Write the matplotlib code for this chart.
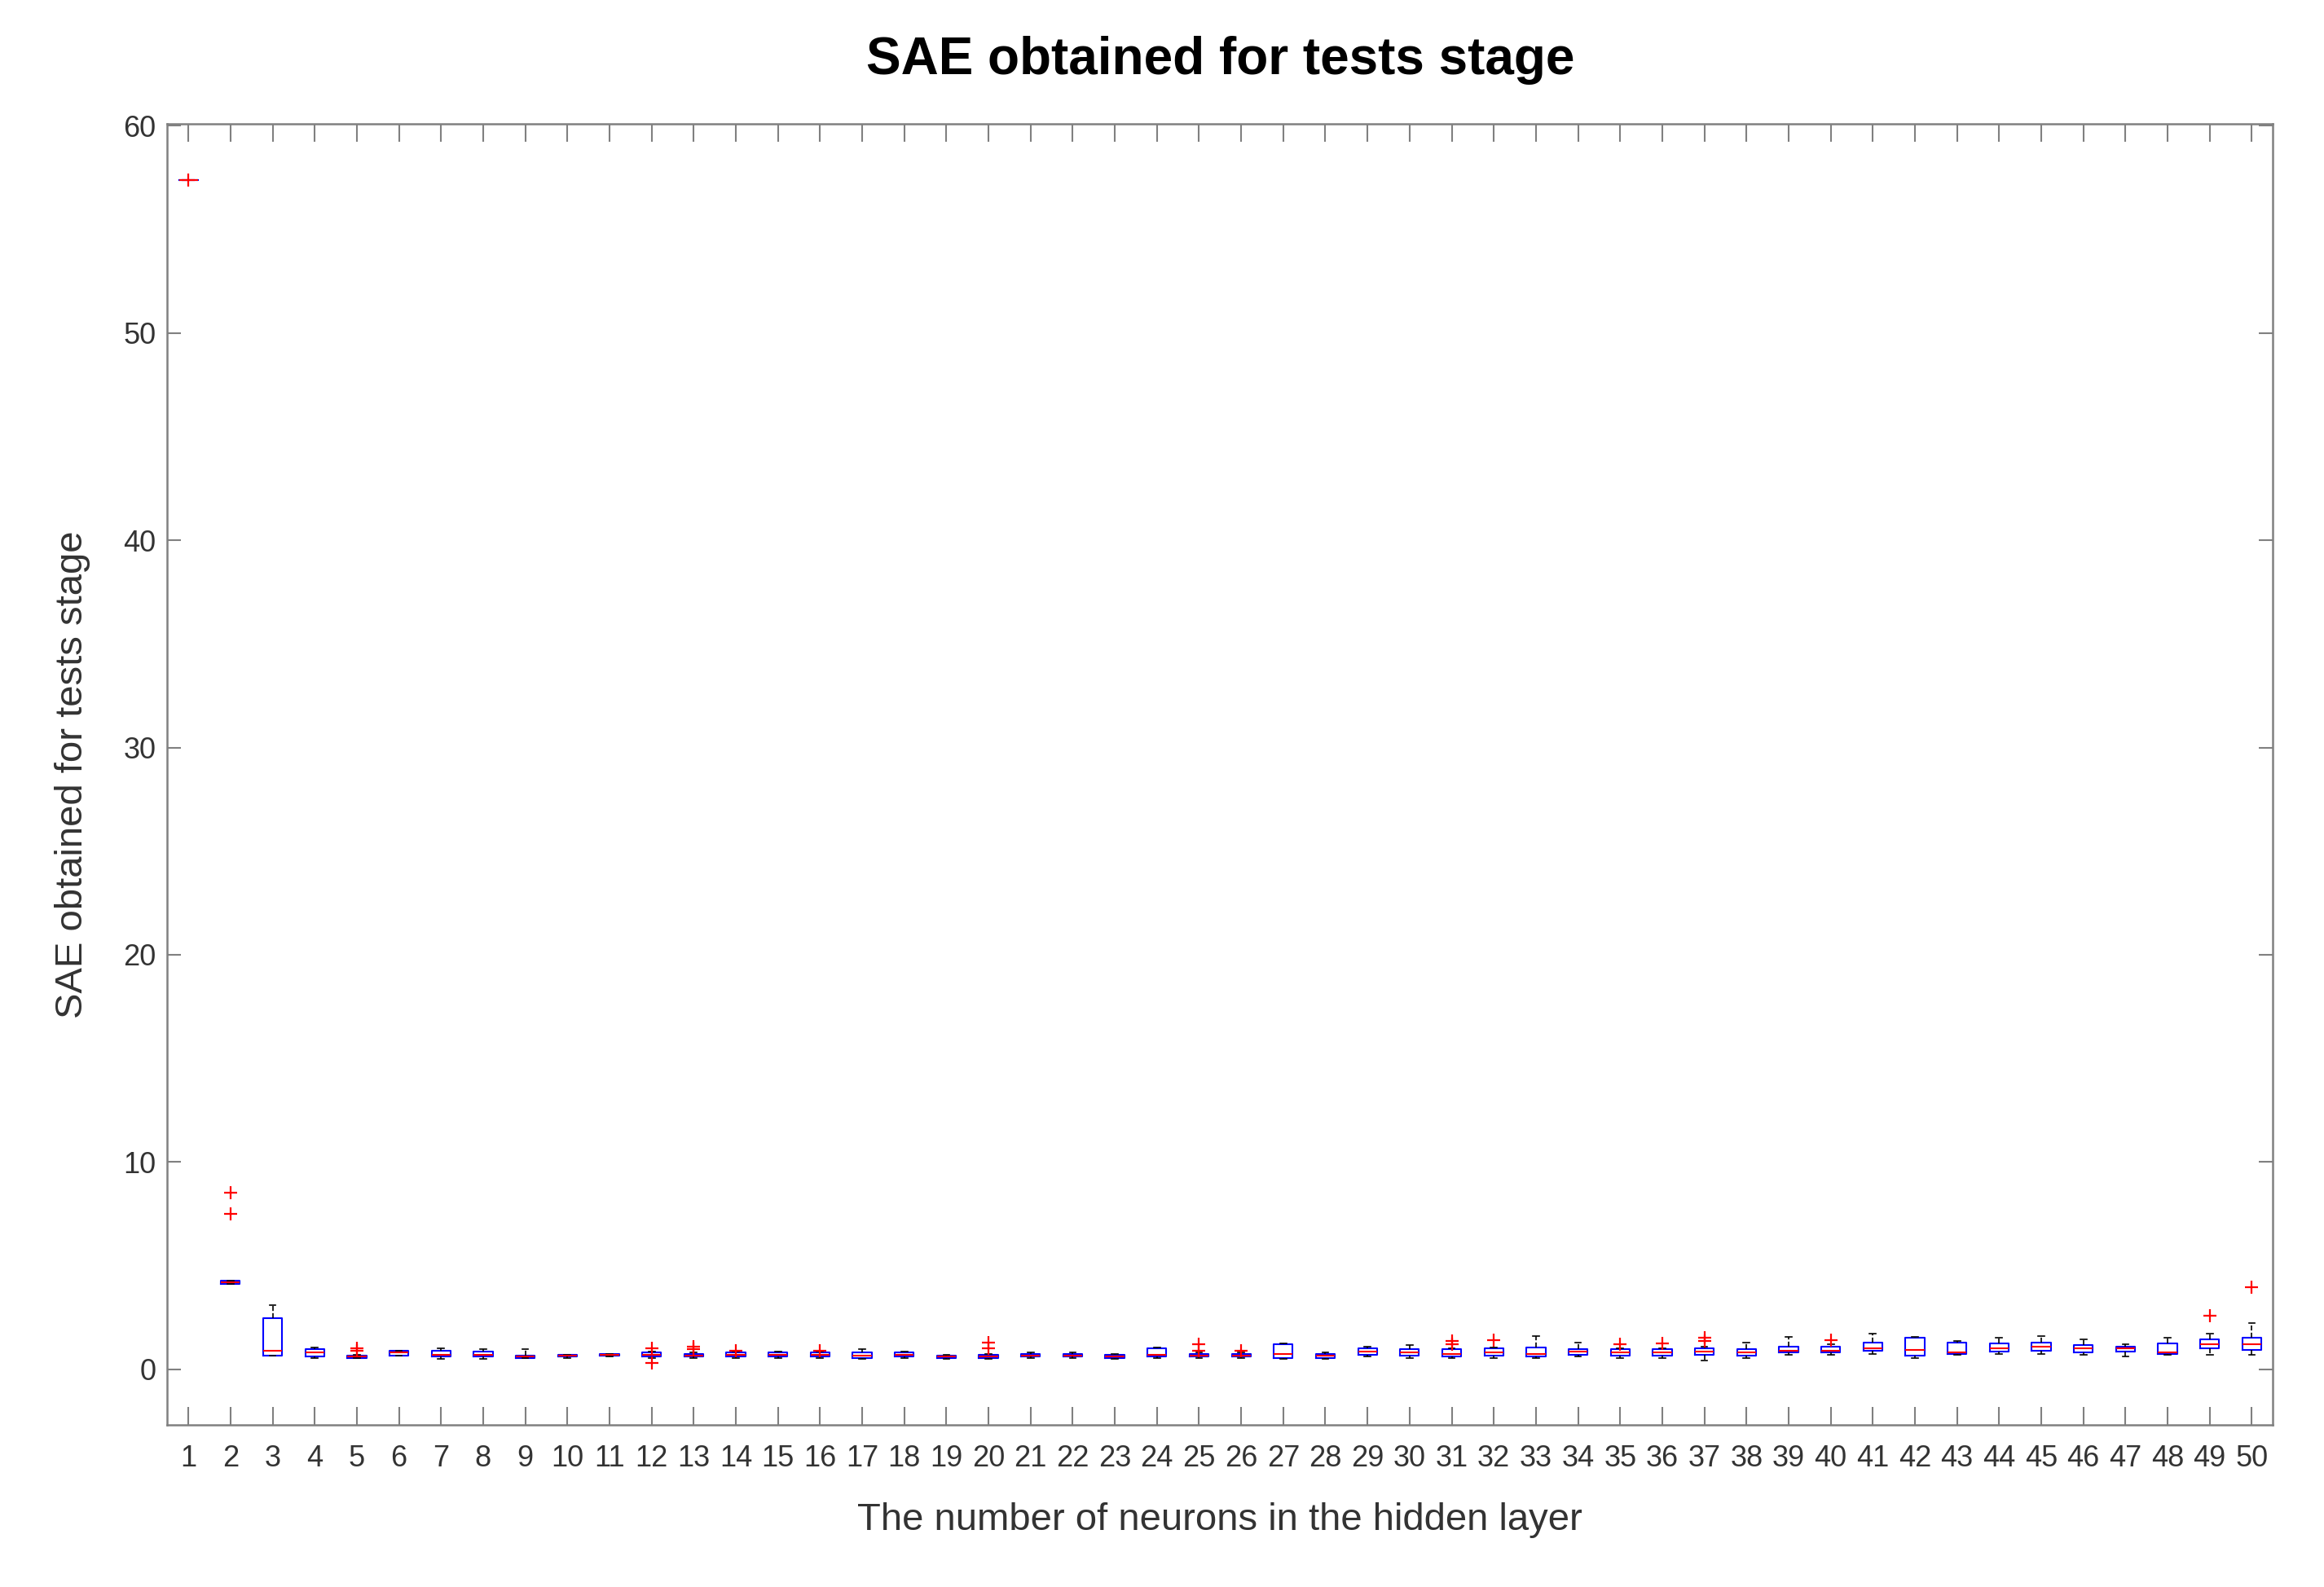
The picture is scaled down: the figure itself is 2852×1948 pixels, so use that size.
import matplotlib
matplotlib.use("Agg")
import matplotlib.pyplot as plt

# neurons in hidden layer
neurons = list(range(1, 51))

# box statistics (SAE values)
q1 = [57.4, 4.12, 0.65, 0.6, 0.55, 0.65, 0.6, 0.6, 0.55, 0.6,
      0.65, 0.6, 0.6, 0.6, 0.6, 0.6, 0.55, 0.6, 0.55, 0.55,
      0.6, 0.6, 0.55, 0.6, 0.6, 0.6, 0.55, 0.55, 0.7, 0.65,
      0.6, 0.65, 0.6, 0.7, 0.65, 0.65, 0.7, 0.65, 0.8, 0.8,
      0.9, 0.66, 0.75, 0.85, 0.9, 0.8, 0.85, 0.75, 0.99, 0.92]
med = [57.4, 4.2, 0.9, 0.8, 0.6, 0.8, 0.7, 0.7, 0.6, 0.65,
       0.7, 0.7, 0.65, 0.7, 0.7, 0.7, 0.65, 0.7, 0.6, 0.6,
       0.65, 0.65, 0.6, 0.7, 0.65, 0.65, 0.75, 0.65, 0.85, 0.8,
       0.75, 0.8, 0.75, 0.85, 0.8, 0.8, 0.85, 0.8, 0.9, 0.9,
       1.0, 0.92, 0.8, 1.0, 1.1, 1.0, 1.0, 0.8, 1.2, 1.2]
q3 = [57.4, 4.28, 2.45, 0.95, 0.65, 0.9, 0.9, 0.85, 0.65, 0.7,
      0.75, 0.8, 0.75, 0.8, 0.8, 0.8, 0.8, 0.8, 0.65, 0.7,
      0.75, 0.75, 0.7, 1.0, 0.75, 0.75, 1.2, 0.75, 1.0, 0.95,
      0.95, 1.0, 1.05, 0.95, 0.95, 0.95, 1.0, 0.95, 1.1, 1.1,
      1.3, 1.5, 1.3, 1.25, 1.3, 1.15, 1.1, 1.25, 1.45, 1.5]
whislo = [57.4, 4.12, 0.65, 0.55, 0.55, 0.65, 0.5, 0.5, 0.55, 0.55,
          0.6, 0.55, 0.55, 0.55, 0.55, 0.55, 0.5, 0.55, 0.5, 0.5,
          0.55, 0.55, 0.5, 0.55, 0.55, 0.55, 0.5, 0.5, 0.6, 0.55,
          0.55, 0.55, 0.55, 0.6, 0.55, 0.55, 0.4, 0.55, 0.7, 0.7,
          0.75, 0.55, 0.7, 0.75, 0.75, 0.7, 0.6, 0.7, 0.7, 0.7]
whishi = [57.4, 4.28, 3.1, 1.05, 0.7, 0.9, 1.0, 0.95, 0.95, 0.7,
          0.75, 0.85, 0.8, 0.85, 0.85, 0.85, 0.95, 0.85, 0.7, 0.75,
          0.8, 0.8, 0.75, 1.05, 0.8, 0.8, 1.25, 0.8, 1.1, 1.15,
          1.0, 1.05, 1.6, 1.3, 1.0, 1.0, 1.1, 1.3, 1.55, 1.2,
          1.7, 1.55, 1.35, 1.5, 1.6, 1.45, 1.2, 1.5, 1.7, 2.24]
fliers = [[57.4], [7.5, 8.5], [], [], [0.9, 1.0], [], [], [], [], [],
          [], [0.3, 1.0], [0.95, 1.1], [0.9], [], [0.9], [], [], [], [1.0, 1.3],
          [], [], [], [], [0.9, 1.2], [0.9], [], [], [], [],
          [1.2, 1.35], [1.4], [], [], [1.2], [1.25], [1.35, 1.5], [], [], [1.4],
          [], [], [], [], [], [], [], [], [2.57], [3.95]]

stats = []
for i in range(len(neurons)):
    stats.append(dict(med=med[i], q1=q1[i], q3=q3[i], whislo=whislo[i],
                      whishi=whishi[i], fliers=fliers[i], label=str(neurons[i])))

plt.rcParams['font.family'] = ['Liberation Sans', 'DejaVu Sans']

fig = plt.figure(figsize=(28.52, 19.48), dpi=100)
ax = fig.add_axes([0.072, 0.102, 0.906, 0.820])

ax.bxp(stats, positions=neurons, widths=0.45, capwidths=0.15,
       boxprops=dict(color='#0000ff', linewidth=1.5),
       medianprops=dict(color='#ff0000', linewidth=1.5),
       whiskerprops=dict(color='#000000', linewidth=1.2, linestyle='--'),
       capprops=dict(color='#000000', linewidth=1.2),
       flierprops=dict(marker='+', markeredgecolor='#ff0000', markersize=11,
                       markeredgewidth=1.6, linestyle='none'))

ax.set_xlim(0.5, 50.5)
ax.set_ylim(-2.7, 60.1)
ax.set_xticks(neurons)
ax.set_xticklabels([str(n) for n in neurons])
ax.set_yticks([0, 10, 20, 30, 40, 50, 60])

for s in ax.spines.values():
    s.set_color('#808080')
    s.set_linewidth(1.8)
ax.tick_params(axis='both', direction='in', top=True, right=True,
               colors='#808080', labelcolor='#333333', labelsize=26)
ax.tick_params(axis='x', length=16, width=1.5, pad=17)
ax.tick_params(axis='y', length=12, width=1.5, pad=10)

ax.set_title('SAE obtained for tests stage', fontsize=46, fontweight='bold', pad=44)
ax.set_xlabel('The number of neurons in the hidden layer', fontsize=34, color='#333333', labelpad=26)
ax.set_ylabel('SAE obtained for tests stage', fontsize=34, color='#333333', labelpad=29)

fig.savefig('out.png', dpi=100, facecolor='white')
